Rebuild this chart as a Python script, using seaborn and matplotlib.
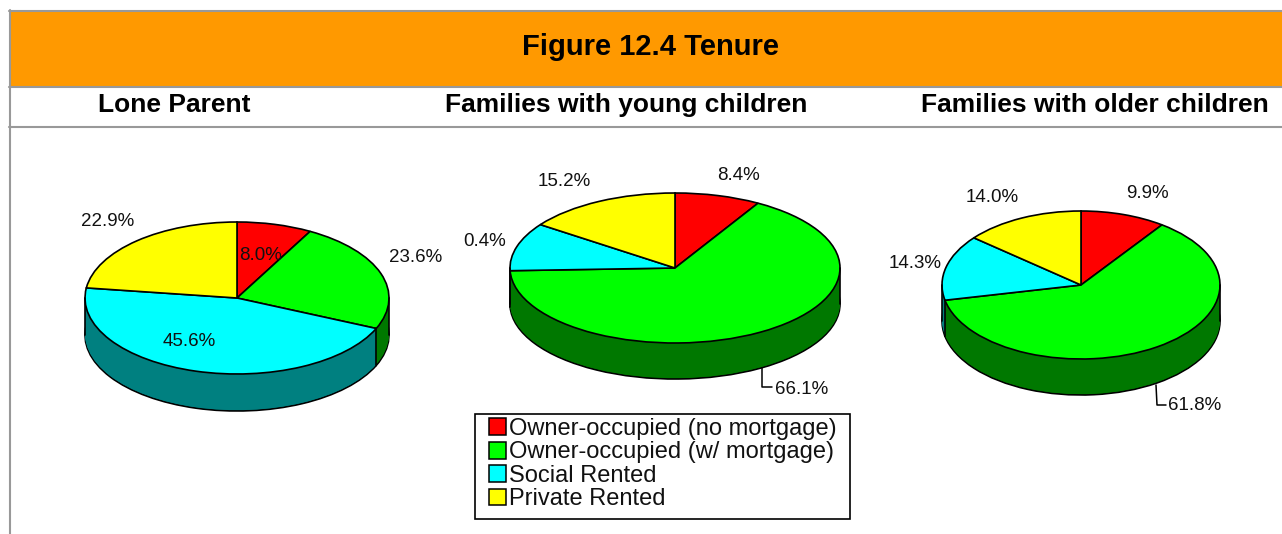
import numpy as np
import matplotlib.pyplot as plt
from matplotlib.patches import Patch, Rectangle
import seaborn as sns

sns.set_theme(style='white')
plt.rcParams['font.family'] = ['Liberation Sans', 'DejaVu Sans']

W, H = 1282, 534

title = 'Figure 12.4 Tenure'
tenures = ['Owner-occupied (no mortgage)', 'Owner-occupied (w/ mortgage)', 'Social Rented', 'Private Rented']
panel_names = ['Lone Parent', 'Families with young children', 'Families with older children']

lone_parent = [8.0, 23.6, 45.6, 22.9]
young_children = [8.4, 66.1, 10.4, 15.2]  # slice is drawn about 10.4 although printed as 0.4%
older_children = [9.9, 61.8, 14.3, 14.0]

lone_parent_labels = ['8.0%', '23.6%', '45.6%', '22.9%']
young_children_labels = ['8.4%', '66.1%', '0.4%', '15.2%']
older_children_labels = ['9.9%', '61.8%', '14.3%', '14.0%']

top_colors = sns.color_palette(['#ff0000', '#00ff00', '#00ffff', '#ffff00'])
side_colors = sns.color_palette(['#800000', '#007800', '#008080', '#808000'])

# centre x, centre y, x radius, y radius, depth, all in pixels
pie_layout = [(237, 298, 152, 76, 37), (675, 268, 165, 75, 36), (1081, 285, 139, 74, 36)]
label_spots = [
    [(261, 255), (416, 257), (189, 342), (108, 222)],
    [(738, 176), (802, 389), (485, 242), (564, 182)],
    [(1147, 193), (1195, 405), (915, 264), (992, 197)],
]
leaders = [None, [(762, 368), (762, 387), (772, 387)], [(1156, 385), (1157, 405), (1166, 405)]]


def draw_pie(values, layout):
    cx, cy, rx, ry, depth = layout
    d = depth / ry
    pad = 0.05
    ax = fig.add_axes([(cx - rx * (1 + pad)) / W, 1 - (cy + depth + ry * (1 + pad)) / H,
                       2 * rx * (1 + pad) / W, ry * (2 + 2 * pad + d) / H], zorder=2)
    edge = {'edgecolor': 'black', 'linewidth': 1.2}
    ax.pie(values, colors=side_colors, startangle=90, counterclock=False,
           center=(0, -d), wedgeprops=edge)
    for off in np.linspace(d, 0, depth + 1)[1:-1]:
        ax.pie(values, colors=side_colors, startangle=90, counterclock=False,
               center=(0, -off), wedgeprops={'linewidth': 0})
    # vertical edges of the rim
    ax.plot([-1, -1], [0, -d], color='black', lw=1.2)
    ax.plot([1, 1], [0, -d], color='black', lw=1.2)
    angles = 2 * np.pi * np.cumsum(values) / np.sum(values)
    for a in angles:
        if np.cos(a) < 0:
            ax.plot([np.sin(a)] * 2, [np.cos(a), np.cos(a) - d], color='black', lw=1.2)
    ax.pie(values, colors=top_colors, startangle=90, counterclock=False, wedgeprops=edge)
    ax.set_aspect('auto')
    ax.set_xlim(-1 - pad, 1 + pad)
    ax.set_ylim(-1 - d - pad, 1 + pad)
    return ax


fig = plt.figure(figsize=(W / 100, H / 100), dpi=100, facecolor='white')

for vals, lay in zip([lone_parent, young_children, older_children], pie_layout):
    draw_pie(vals, lay)

# overlay in pixel coordinates for the header, labels and legend
over = fig.add_axes([0, 0, 1, 1], zorder=5)
over.patch.set_alpha(0)
over.set_xlim(0, W)
over.set_ylim(H, 0)
over.axis('off')

over.add_patch(Rectangle((10, 12), W - 10, 74, facecolor='#ff9900', edgecolor='none'))
grey = '#999999'
over.plot([9, W], [11, 11], color=grey, lw=1.5)
over.plot([9, W], [87, 87], color=grey, lw=1.5)
over.plot([9, W], [127, 127], color=grey, lw=1.5)
over.plot([9.5, 9.5], [10, H], color=grey, lw=1.5)

over.text(651, 47, title, ha='center', va='center', fontsize=21, fontweight='bold', color='black')
for name, x in zip(panel_names, [174, 626, 1095]):
    over.text(x, 105, name, ha='center', va='center', fontsize=19, fontweight='bold', color='black')

all_labels = [lone_parent_labels, young_children_labels, older_children_labels]
for labels, spots in zip(all_labels, label_spots):
    for lab, (x, y) in zip(labels, spots):
        over.text(x, y, lab, ha='center', va='center', fontsize=13.5, color='#111111')

for line in leaders:
    if line:
        over.plot([p[0] for p in line], [p[1] for p in line], color='black', lw=1.1)

over.add_patch(Rectangle((474.5, 413.5), 375, 105, facecolor='white', edgecolor='black', linewidth=1.2))
handles = [Patch(facecolor=c, edgecolor='black', linewidth=1.1) for c in top_colors]
leg = over.legend(handles, tenures, loc='upper left', bbox_to_anchor=(489, 418),
                  bbox_transform=over.transData, borderaxespad=0, fontsize=17,
                  frameon=False, handlelength=0.72, handleheight=0.72, handletextpad=0.13,
                  labelspacing=0.06, borderpad=0)
for t in leg.get_texts():
    t.set_color('#111111')

fig.savefig('out.png', dpi=100)
